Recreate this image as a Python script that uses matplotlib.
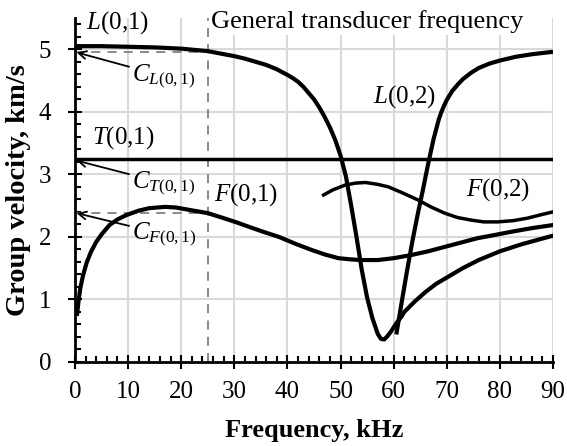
import matplotlib
matplotlib.use("Agg")
import matplotlib.pyplot as plt
from matplotlib.ticker import MultipleLocator

plt.rcParams['font.family'] = ['Liberation Serif', 'DejaVu Serif']
plt.rcParams['mathtext.fontset'] = 'custom'
plt.rcParams['mathtext.rm'] = 'Liberation Serif'
plt.rcParams['mathtext.it'] = 'Liberation Serif:italic'
plt.rcParams['mathtext.bf'] = 'Liberation Serif:bold'

# ---- data (frequency kHz, group velocity km/s) ----
L1_f = [0, 5, 10, 15, 20, 25, 30, 32, 34, 36, 38, 40, 41, 42, 43, 44, 45, 46, 47, 48, 49, 50, 51, 52,
        53, 54, 55, 56, 57, 57.6, 58.2, 58.8, 59.6, 60.5, 61.5, 62, 64, 66, 68, 70, 73, 76, 80, 84, 87, 90]
L1_v = [5.05, 5.05, 5.04, 5.03, 5.01, 4.97, 4.89, 4.85, 4.80, 4.75, 4.68, 4.59, 4.54, 4.48, 4.40, 4.30,
        4.20, 4.07, 3.92, 3.75, 3.55, 3.30, 2.97, 2.50, 2.00, 1.47, 1.03, 0.70, 0.45, 0.37, 0.36, 0.41,
        0.50, 0.62, 0.73, 0.80, 0.97, 1.12, 1.25, 1.35, 1.50, 1.63, 1.77, 1.88, 1.95, 2.02]

L2_f = [60.5, 61.5, 62.5, 63.5, 64.5, 65.5, 66.5, 67.5, 68.5, 69, 69.5, 70, 71, 72, 73, 74.5, 76, 78,
        80, 83, 86, 90]
L2_v = [0.44, 0.95, 1.45, 1.92, 2.35, 2.75, 3.17, 3.56, 3.88, 4.00, 4.10, 4.19, 4.33, 4.43, 4.52, 4.62,
        4.70, 4.77, 4.82, 4.88, 4.92, 4.96]

T1_f = [0, 90]
T1_v = [3.25, 3.25]

F1_f = [0.4, 0.7, 1.0, 1.5, 2.2, 3, 4, 5, 6.5, 8, 9.7, 12, 14, 17, 19, 21, 23, 25, 28, 30.5, 32.8,
        35.5, 38.4, 41.5, 44.6, 47, 49.6, 52, 54, 57, 60, 63.3, 66.5, 69.6, 72.7, 75.8, 79, 82, 86, 90]
F1_v = [0.77, 1.0, 1.18, 1.38, 1.59, 1.76, 1.92, 2.04, 2.19, 2.28, 2.35, 2.42, 2.46, 2.48, 2.47, 2.44,
        2.41, 2.38, 2.30, 2.23, 2.16, 2.08, 2.0, 1.89, 1.79, 1.72, 1.66, 1.64, 1.63, 1.63, 1.66, 1.71,
        1.77, 1.84, 1.91, 1.98, 2.03, 2.08, 2.14, 2.19]

F2_f = [46.8, 48.5, 50.9, 52.8, 54.7, 57, 59, 61.5, 64.6, 67, 69.6, 72, 74.5, 77, 79.6, 82.5, 85.2, 88, 90]
F2_v = [2.67, 2.75, 2.83, 2.86, 2.87, 2.84, 2.80, 2.71, 2.59, 2.48, 2.38, 2.31, 2.27, 2.24, 2.24, 2.26,
        2.30, 2.36, 2.40]

f_transducer = 25
c_L = 4.95
c_T = 3.25
c_F = 2.38

W, H = 567, 446
fig = plt.figure(figsize=(W / 100, H / 100), dpi=100)
ax = fig.add_axes([75 / W, (H - 362) / H, (553 - 75) / W, (362 - 18) / H])

ax.set_xlim(0, 90)
ax.set_ylim(0, 5.5)
ax.grid(True, which='major', color='#d9d9d9', lw=1.5, zorder=0)
ax.set_axisbelow(True)

for s in ['top', 'right']:
    ax.spines[s].set_visible(False)
for s in ['left', 'bottom']:
    ax.spines[s].set_linewidth(2)

ax.xaxis.set_major_locator(MultipleLocator(10))
ax.xaxis.set_minor_locator(MultipleLocator(2))
ax.yaxis.set_major_locator(MultipleLocator(1))
ax.yaxis.set_minor_locator(MultipleLocator(0.2))
ax.tick_params(axis='x', which='major', direction='inout', length=9.5, width=1.5, labelsize=18, pad=9)
ax.tick_params(axis='x', which='minor', direction='in', length=4, width=1.5)
ax.tick_params(axis='y', which='major', direction='inout', length=10, width=1.5, labelsize=18, pad=12)
ax.tick_params(axis='y', which='minor', direction='in', length=4, width=1.5)

ax.set_xlabel('Frequency, kHz', fontsize=19, fontweight='bold')
ax.set_ylabel('Group velocity, km/s', fontsize=20.5, fontweight='bold')
ax.xaxis.set_label_coords(0.5, -0.167)
ax.yaxis.set_label_coords(-0.092, 0.5)

# reference dashed lines
ax.axvline(f_transducer, color='#808080', ls=(0, (5, 4)), lw=1.3, zorder=1)
ax.plot([0, f_transducer], [c_L, c_L], color='#808080', ls=(0, (5, 4)), lw=1.3, zorder=1)
ax.plot([0, f_transducer], [c_F, c_F], color='#808080', ls=(0, (5, 4)), lw=1.3, zorder=1)

# curves
ax.plot(L1_f, L1_v, color='black', lw=3, solid_capstyle='round', solid_joinstyle='round', zorder=3)
ax.plot(L2_f, L2_v, color='black', lw=3, solid_capstyle='butt', solid_joinstyle='round', zorder=3)
ax.plot(T1_f, T1_v, color='black', lw=2.5, zorder=3)
ax.plot(F1_f, F1_v, color='black', lw=3, solid_joinstyle='round', zorder=3)
ax.plot(F2_f, F2_v, color='black', lw=2.5, solid_joinstyle='round', zorder=3)

# labels
fs = 18
ax.text(2.0, 5.42, r'$L$(0,1)', fontsize=fs, va='center', ha='left', zorder=4, clip_on=False)
ax.text(3.2, 3.59, r'$T$(0,1)', fontsize=fs, va='center', ha='left', zorder=4)
ax.text(26.2, 2.67, r'$F$(0,1)', fontsize=fs, va='center', ha='left', zorder=4)
ax.text(56.2, 4.25, r'$L$(0,2)', fontsize=fs, va='center', ha='left', zorder=4)
ax.text(73.6, 2.75, r'$F$(0,2)', fontsize=fs, va='center', ha='left', zorder=4)
ax.text(25.6, 5.44, 'General transducer frequency', fontsize=19, va='center', ha='left', zorder=4,
        clip_on=False, bbox=dict(facecolor='white', edgecolor='none', pad=1))

arrowprops = dict(arrowstyle='->', color='black', lw=1.3, shrinkA=0, shrinkB=0,
                  mutation_scale=14)
ax.annotate(r'$C_{L\mathrm{(0,1)}}$', xy=(0.3, c_L), xytext=(10.7, 4.57), fontsize=fs,
            va='center', ha='left', arrowprops=arrowprops, zorder=4)
ax.annotate(r'$C_{T\mathrm{(0,1)}}$', xy=(0.3, 3.22), xytext=(10.7, 2.86), fontsize=fs,
            va='center', ha='left', arrowprops=arrowprops, zorder=4)
ax.annotate(r'$C_{F\mathrm{(0,1)}}$', xy=(0.3, c_F), xytext=(10.7, 2.04), fontsize=fs,
            va='center', ha='left', arrowprops=arrowprops, zorder=4)

fig.savefig('out.png', dpi=100)
